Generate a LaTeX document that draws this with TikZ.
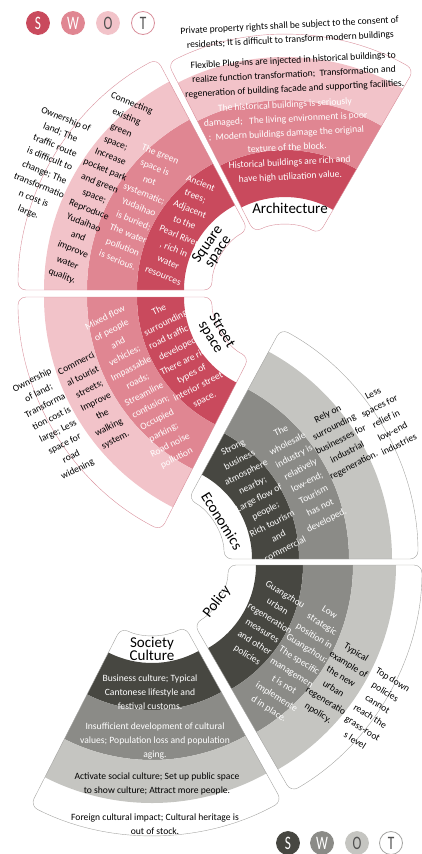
\documentclass[tikz,border=0pt]{standalone}
\usepackage{fontspec}
\setmainfont{Carlito}
\usetikzlibrary{calc}
\definecolor{rS}{HTML}{C94A5D}
\definecolor{rW}{HTML}{E08692}
\definecolor{rO}{HTML}{F2C3C9}
\definecolor{rL}{HTML}{D9909C}
\definecolor{gS}{HTML}{474741}
\definecolor{gW}{HTML}{8B8B87}
\definecolor{gO}{HTML}{C5C5C1}
\definecolor{gL}{HTML}{A4A4A2}
\definecolor{ink}{HTML}{505050}
% one band of a sector: fill, centre, from, to, inner, outer
\newcommand{\swotband}[6]{\fill[fill=#1] ($(#2)+(#3:#5)$) arc[start angle=#3, end angle=#4, radius=#5]
  -- ($(#2)+(#4:#6)$) arc[start angle=#4, end angle=#3, radius=#6] -- cycle;}
\newcommand{\narrow}[1]{\scalebox{0.7}[1]{#1}}
\begin{document}
\begin{tikzpicture}[x=1pt, y=1pt, line join=round, line cap=round,
	txt/.style={align=center, inner sep=0pt, font=\fontsize{9.6}{14.3}\selectfont},
	wtxt/.style={txt, text=white},
	lbl/.style={align=center, inner sep=0pt, font=\fontsize{15}{13}\selectfont},
	dot/.style={circle, minimum size=23pt, inner sep=0pt, line width=0.8pt, font=\fontsize{19}{19}\selectfont}]
		\useasboundingbox (0,0) rectangle (422,-854);
		\path
		(285,-293) coordinate (arch)
		(280,-290) coordinate (squ)
		(280,-297) coordinate (str)
		(156,-559) coordinate (eco)
		(160,-565) coordinate (pol)
		(152,-567) coordinate (soc);
		% sectors
		\foreach \c/\a/\b/\s/\w/\o/\l/\r in {arch/60/117/rS/rW/rO/rL/258, squ/118/180/rS/rW/rO/rL/262,
			str/180/243/rS/rW/rO/rL/262, eco/0/61.5/gS/gW/gO/gL/262, pol/-60/0/gS/gW/gO/gL/262, soc/-117/-61/gS/gW/gO/gL/268}{
			\swotband{\s}{\c}{\a}{\b}{96}{143}
			\swotband{\w}{\c}{\a}{\b}{143}{193}
			\swotband{\o}{\c}{\a}{\b}{193}{236}
			\draw[draw=\l, rounded corners=8pt] ($(\c)+(\a:68)$) arc[start angle=\a, end angle=\b, radius=68]
			-- ($(\c)+(\b:\r)$) arc[start angle=\b, end angle=\a, radius=\r] -- cycle;
		}
		
		% Architecture
		\node[txt, rotate=3] (archT) at (290,-33) {Private property rights shall be subject to the consent of\\residents; It is difficult to transform modern buildings};
		\node[txt, rotate=3] (archO) at (294,-75) {Flexible Plug-ins are injected in historical buildings to\\realize function transformation;\ \ Transformation and\\regeneration of building facade and supporting facilities.};
		\node[wtxt, rotate=3] (archW) at (286,-126) {The historical buildings is seriously\\damaged;\ \ \ The living environment is poor\\;\ \ Modern buildings damage the original\\texture of the block.};
		\node[wtxt, rotate=3] (archS) at (290,-170) {Historical buildings are rich and\\have high utilization value.};
		\node[lbl] (archL) at (290,-208) {Architecture};
		
		% Square space
		\node[txt, rotate=-22] (squT) at (47,-166) {Ownership of\\land; The\\traffic route\\is difficult to\\change; The\\transformatio\\n cost is\\large.};
		\node[txt, rotate=-22] (squO) at (97,-190) {Connecting\\existing\\green\\space;\\Increase\\pocket park\\and green\\space;\\Reproduce\\Yudaihao\\and\\improve\\water\\quality.};
		\node[wtxt, rotate=-22] (squW) at (139,-207) {The green\\space is\\not\\systematic;\\Yudaihao\\is buried;\\The water\\pollution\\is serious.};
		\node[wtxt, rotate=-22] (squS) at (182,-229) {Ancient\\trees;\\Adjacent\\to the\\Pearl River\\, rich in\\water\\resources};
		\node[lbl, rotate=55] (squL) at (213,-248) {Square\\space};
		
		% Street space
		\node[txt, rotate=27] (strT) at (55,-425) {Ownership\\of land;\\Transforma\\tion cost is\\large; Less\\space for\\road\\widening};
		\node[txt, rotate=27] (strO) at (96,-402) {Commerci\\al tourist\\streets;\\Improve\\the\\walking\\system.};
		\node[wtxt, rotate=27] (strW) at (141,-388) {Mixed flow\\of people\\and\\vehicles;\\Impassable\\roads;\\Streamline\\confusion;\\Occupied\\parking;\\Road noise\\pollution};
		\node[wtxt, rotate=27] (strS) at (182,-355) {The\\surrounding\\road traffic is\\developed;\\There are rich\\types of\\interior street\\space.};
		\node[lbl, rotate=-59] (strL) at (216,-334) {Street\\space};
		
		% Economics
		\node[txt, rotate=27] (ecoT) at (386,-419) {Less\\spaces for\\relief in\\low-end\\industries};
		\node[txt, rotate=27] (ecoO) at (341,-440) {Rely on\\surrounding\\businesses for\\industrial\\regeneration.};
		\node[wtxt, rotate=27] (ecoW) at (304,-476) {The\\wholesale\\industry is\\relatively\\low-end;\\Tourism\\has not\\developed.};
		\node[wtxt, rotate=27] (ecoS) at (259,-498) {Strong\\business\\atmosphere\\nearby;\\Large flow of\\people;\\Rich tourism\\and\\commercial};
		\node[lbl, rotate=-58] (ecoL) at (222,-521) {Economics};
		
		% Policy
		\node[wtxt, rotate=-32] (polS) at (266,-625) {Guangzhou\\urban\\regeneration\\measures\\and other\\policies};
		\node[wtxt, rotate=-32] (polW) at (299,-661) {Low\\strategic\\position in\\Guangzhou;\\The specific\\managemen\\t is not\\implemente\\d in place.};
		\node[txt, rotate=-32] (polO) at (337,-683) {Typical\\example of\\the new\\urban\\regeneratio\\npolicy.};
		\node[txt, rotate=-32] (polT) at (374,-710) {Top down\\policies\\cannot\\reach the\\grass-root\\s level};
		\node[lbl, rotate=52] (polL) at (217,-602) {Policy};
		
		% Society Culture
		\node[lbl] (socL) at (152,-649) {Society\\Culture};
		\node[wtxt] (socS) at (150,-692) {Business culture; Typical\\Cantonese lifestyle and\\festival customs.};
		\node[wtxt] (socW) at (155,-741) {Insufficient development of cultural\\values; Population loss and population\\aging.};
		\node[txt] (socO) at (157,-784) {Activate social culture; Set up public space\\to show culture; Attract more people.};
		\node[txt] (socT) at (155,-824) {Foreign cultural impact; Cultural heritage is\\out of stock.};
		
		% SWOT keys
		\foreach \x/\f/\d/\t/\n in {38/rS/rS/white/S, 73/rW/rW/white/W, 108/rO/rO/ink/O, 143/white/rL/ink/T}
		\node[dot, fill=\f, draw=\d, text=\t] (top\n) at (\x,-23) {\narrow{\n}};
		\foreach \x/\f/\d/\t/\n in {288/gS/gS/white/S, 322/gW/gW/white/W, 357/gO/gO/ink/O, 391/white/gL/ink/T}
		\node[dot, fill=\f, draw=\d, text=\t] (bot\n) at (\x,-843) {\narrow{\n}};
		
	\end{tikzpicture}
\end{document}
